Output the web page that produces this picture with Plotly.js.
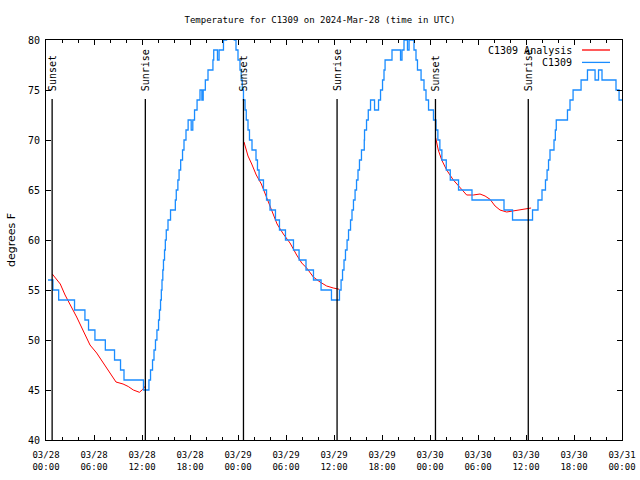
<!DOCTYPE html>
<html>
<head>
<meta charset="utf-8">
<script src="https://cdn.plot.ly/plotly-3.0.1.min.js"></script>
<style>html,body{margin:0;padding:0;background:#fff;}#chart{width:640px;height:480px;}</style>
</head>
<body>
<div id="chart"></div>
<script>
// Minutes after 2024-03-28 00:00 UTC
const blueMinutes = [15,52,95,214,292,319,367,445,514,559,585,731,
  772,784,799,810,821,832,844,851,859,865,870,876,881,889,895,902,915,934,970,977,989,998,1010,1024,1035,1050,1066,1089,1101,1114,1133,1155,1169,1179,1195,1215,1252,1258,1286,1298,1331,1354,1412,1425,1440,1455,1464,1472,1481,1493,1502,1515,1526,
  1545,1575,1586,1598,1631,1654,1680,1721,1751,1796,1856,1898,1950,2006,2063,2141,2201,
  2213,2224,2235,2246,2258,2269,2284,2295,2306,2318,2329,2340,2351,2366,2387,2389,2404,2417,2434,2464,2494,2509,2524,2535,2543,2595,2659,2670,2685,2711,2723,2760,2775,2786,2813,2835,2850,2869,
  2906,2925,2939,2954,2969,3002,3032,3094,3195,3435,3499,3649,
  3690,3720,3746,3758,3769,3780,3810,3820,3827,3911,3930,3953,4013,4061,4118,4144,4170,4275,4298,4320];
const blueTemps = [56,55,54,53,52,51,50,49,48,47,46,45,
  46,47,48,49,50,51,52,53,54,55,56,57,58,59,60,61,62,63,64,65,66,67,68,69,70,71,72,71,72,73,74,75,74,75,76,77,78,79,78,79,80,81,80,79,78,77,76,75,74,73,72,71,70,
  69,68,67,66,65,64,63,62,61,60,59,58,57,56,55,54,55,
  56,57,58,59,60,61,62,63,64,65,66,67,68,69,70,71,72,73,74,73,74,75,76,77,78,79,78,79,80,79,80,79,78,77,76,75,74,73,
  72,71,70,69,68,67,66,65,64,63,62,63,
  64,65,66,67,68,69,70,71,72,73,74,75,76,77,76,77,76,75,74,74];

const redMinutes = [47,107,143,184,230,280,330,380,430,480,525,578,617,655,701,724,746, null,
  1485,1515,1543,1577,1615,1654,1688,1733,1780,1830,1880,1918,1955,2005,2055,2105,2155,2200, null,
  2923,2942,2968,3005,3055,3105,3155,3205,3255,3293,3330,3368,3405,3455,3505,3555,3605,3638];
const redTemps = [56.6,55.6,54.5,53.5,52.3,50.9,49.5,48.7,47.7,46.7,45.8,45.6,45.35,45.0,44.77,45.05,45.4, null,
  69.8,68.4,67.6,66.5,65.6,64.3,63.1,61.6,60.6,59.7,58.5,57.7,57.2,56.3,55.8,55.4,55.2,55.07, null,
  70.2,69.0,68.0,67.0,66.0,65.2,64.5,64.5,64.6,64.4,64.07,63.4,63.0,62.8,62.9,63.0,63.1,63.2];

const sunMinutes = [46,745,1481,2183,2921,3617];
const sunLabels = ["Sunset","Sunrise","Sunset","Sunrise","Sunset","Sunrise"];

const seriesNames = ["C1309 Analysis","C1309"];
const titleText = "Temperature for C1309 on 2024-Mar-28 (time in UTC)";
const yLabel = "degrees F";
const xStart = "2024-03-28 00:00", xEnd = "2024-03-31 00:00";

const t0 = Date.UTC(2024,2,28);
function toDate(m){ if(m===null) return null; return new Date(t0 + m*60000).toISOString().slice(0,19).replace('T',' '); }

const mono = "DejaVu Sans Mono";
const RED = "#ff0000", BLUE = "#1a8cff";

const traces = [
  {x: redMinutes.map(toDate), y: redTemps, type:'scatter', mode:'lines', name:seriesNames[0],
   line:{color:RED, width:1}, connectgaps:false, showlegend:false},
  {x: blueMinutes.map(toDate), y: blueTemps, type:'scatter', mode:'lines', name:seriesNames[1],
   line:{color:BLUE, width:1.3, shape:'hv'}, showlegend:false}
];

const shapes = sunMinutes.map(m => ({type:'line', xref:'x', yref:'y', x0:toDate(m), x1:toDate(m), y0:40, y1:74.1,
  line:{color:'#000', width:1.3}}));
const annotations = sunMinutes.map((m,i) => ({xref:'x', yref:'y', x:toDate(m), y:74.7, text:sunLabels[i], textangle:-90,
  showarrow:false, xanchor:'center', yanchor:'bottom', font:{family:mono, size:10, color:'#000'}}));

// legend (text right-aligned, sample line to the right)
const legY = [0.975, 0.944];
const legColors = [RED, BLUE];
seriesNames.forEach((n,i) => {
  annotations.push({xref:'paper', yref:'paper', x:0.917, y:legY[i], text:n, showarrow:false, xanchor:'right', yanchor:'middle',
    font:{family:mono, size:10, color:'#000'}});
  shapes.push({type:'line', xref:'paper', yref:'paper', x0:0.9306, x1:0.9792, y0:legY[i], y1:legY[i], line:{color:legColors[i], width:1.3}});
});

const layout = {
  width:640, height:480,
  margin:{l:46, r:18, t:40, b:40, pad:0},
  paper_bgcolor:'#fff', plot_bgcolor:'#fff',
  title:{text:titleText, font:{family:mono, size:9, color:'#000'}, x:0.5, xref:'container', y:1-20/480, yref:'container', yanchor:'middle'},
  showlegend:false,
  xaxis:{type:'date', range:[xStart, xEnd], dtick:6*3600*1000, tick0:xStart, tickformat:'%m/%d<br>%H:%M',
    ticks:'inside', ticklen:5, tickcolor:'#000', tickwidth:1, showgrid:false, zeroline:false,
    showline:true, linecolor:'#000', linewidth:1, mirror:'ticks', ticklabelstandoff:6,
    minor:{dtick:2*3600*1000, tick0:xStart, ticks:'inside', ticklen:3, tickcolor:'#000', showgrid:false},
    tickfont:{family:mono, size:9, color:'#000'}},
  yaxis:{range:[40,80], dtick:5, ticks:'inside', ticklen:5, tickcolor:'#000', showgrid:false, zeroline:false,
    showline:true, linecolor:'#000', linewidth:1, mirror:'ticks', ticklabelstandoff:3,
    tickfont:{family:mono, size:10, color:'#000'},
    title:{text:yLabel, font:{family:'DejaVu Sans', size:11, color:'#000'}, standoff:10}},
  shapes:shapes, annotations:annotations
};

Plotly.newPlot('chart', traces, layout, {staticPlot:true, displayModeBar:false});
</script>
</body>
</html>
